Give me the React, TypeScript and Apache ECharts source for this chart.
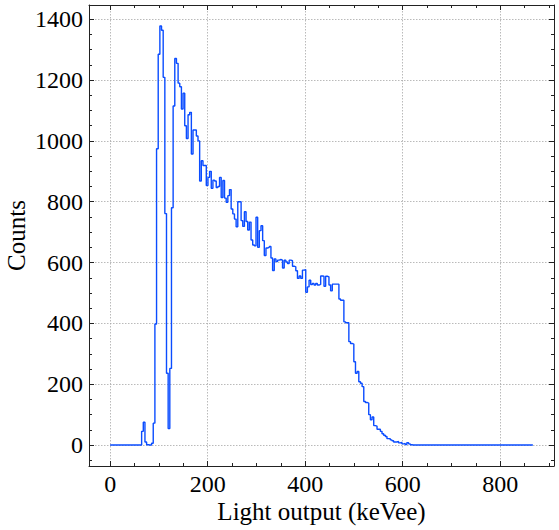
import React, { useEffect, useRef } from "react";
import * as echarts from "echarts";

// Histogram: bin width in keVee, counts per bin starting at 0 keVee
const binWidth = 3.4;
const counts = [
  0, 0, 0, 0, 0, 0, 0, 0, 0, 0, 0, 0, 0, 0, 0, 0, 0, 0,
  0, 45, 75, 10, 1, 0, 0, 6, 72, 398, 974, 1285,
  1378, 1364, 1209, 761, 236, 54, 252, 780, 1115, 1271,
  1255, 1190, 1178, 1105, 1157, 1050, 1008, 1086, 1094, 957,
  1036, 1036, 1016, 1000, 868, 935, 919, 919, 853, 880,
  900, 844, 871, 868, 847, 850, 880, 814, 870, 812,
  798, 820, 840, 776, 760, 743, 718, 800, 800, 738,
  719, 767, 735, 707, 733, 674, 658, 655, 749, 650,
  705, 721, 672, 623, 648, 650, 653, 615, 574, 612,
  603, 608, 610, 608, 582, 608, 602, 597, 608, 606,
  588, 586, 573, 548, 556, 548, 575, 577, 502, 520,
  542, 528, 531, 526, 531, 526, 528, 556, 555, 522,
  555, 553, 526, 507, 529, 529, 529, 529, 480, 476,
  476, 405, 402, 402, 340, 334, 332, 274, 236, 242,
  208, 203, 192, 143, 140, 138, 100, 83, 92, 64,
  62, 52, 52, 45, 37, 32, 28, 21, 21, 17,
  14, 10, 10, 12, 7, 9, 4, 5, 2, 8,
  4, 1, 0, 0, 0, 0, 0, 0, 0, 0,
  0, 0, 0, 0, 0, 0, 0, 0, 0, 0,
  0, 0, 0, 0, 0, 0, 0, 0, 0, 0,
  0, 0, 0, 0, 0, 0, 0, 0, 0, 0,
  0, 0, 0, 0, 0, 0, 0, 0, 0, 0,
  0, 0, 0, 0, 0, 0, 0, 0, 0, 0,
  0, 0, 0, 0, 0, 0, 0, 0, 0, 0,
  0, 0, 0, 0, 0,
];

const xMajor = [0, 200, 400, 600, 800];
const xMinor = [50, 100, 150, 250, 300, 350, 450, 500, 550, 650, 700, 750, 850, 900];
const yMajor = [0, 200, 400, 600, 800, 1000, 1200, 1400];
const yMinor = [-50, 50, 100, 150, 250, 300, 350, 450, 500, 550, 650, 700, 750, 850, 900, 950, 1050, 1100, 1150, 1250, 1300, 1350];

const xRange = [-43.35, 910.35];
const yRange = [-68.9, 1446.9];

const FONT = "'Liberation Serif', 'Times New Roman', serif";
const LINE_COLOR = "#0a4cff";

export default function App() {
  const ref = useRef<HTMLDivElement>(null);

  useEffect(() => {
    document.body.style.margin = "0";
    if (!ref.current) return;
    const chart = echarts.init(ref.current, null, { renderer: "svg" });

    const stepData: number[][] = counts.map((c, i) => [i * binWidth, c]);
    stepData.push([counts.length * binWidth, counts[counts.length - 1]]);

    const frame = { show: true, onZero: false, lineStyle: { color: "#222", width: 1 } };
    const grid = { show: true, lineStyle: { color: "#a8a8a8", width: 0.8, type: [1.5, 1.5] as any } };
    const tickStyle = { color: "#222", width: 1 };
    const fmt = (v: number) => String(Math.round(v));

    const xAx = (position: string, ticks: number[], len: number, major: boolean, label: boolean) => ({
      type: "value",
      position,
      min: xRange[0],
      max: xRange[1],
      axisLine: major ? frame : { show: false, onZero: false },
      axisTick: { show: true, inside: true, length: len, lineStyle: tickStyle, customValues: ticks },
      axisLabel: label
        ? { show: true, customValues: ticks, formatter: fmt, margin: 6, fontSize: 24, fontFamily: FONT, color: "#000" }
        : { show: false },
      splitLine: label ? { ...grid, customValues: ticks } : { show: false },
      ...(label
        ? {
            name: "Light output (keVee)",
            nameLocation: "middle",
            nameGap: 33,
            nameMoveOverlap: false,
            nameTextStyle: { fontSize: 25, fontFamily: FONT, color: "#000" },
          }
        : {}),
    });

    const yAx = (position: string, ticks: number[], len: number, major: boolean, label: boolean) => ({
      type: "value",
      position,
      min: yRange[0],
      max: yRange[1],
      axisLine: major ? frame : { show: false, onZero: false },
      axisTick: { show: true, inside: true, length: len, lineStyle: tickStyle, customValues: ticks },
      axisLabel: label
        ? { show: true, customValues: ticks, formatter: fmt, margin: 6, fontSize: 24, fontFamily: FONT, color: "#000" }
        : { show: false },
      splitLine: label ? { ...grid, customValues: ticks } : { show: false },
      ...(label
        ? {
            name: "Counts",
            nameLocation: "middle",
            nameGap: 60,
            nameMoveOverlap: false,
            nameTextStyle: { fontSize: 25, fontFamily: FONT, color: "#000" },
          }
        : {}),
    });

    chart.setOption({
      animation: false,
      backgroundColor: "#fff",
      grid: { left: 89, right: 5, top: 5, bottom: 64, containLabel: false, outerBoundsMode: "none" },
      xAxis: [
        xAx("bottom", xMajor, 5, true, true),
        xAx("bottom", xMinor, 3, false, false),
        xAx("top", xMajor, 5, true, false),
        xAx("top", xMinor, 3, false, false),
      ],
      yAxis: [
        yAx("left", yMajor, 5, true, true),
        yAx("left", yMinor, 3, false, false),
        yAx("right", yMajor, 5, true, false),
        yAx("right", yMinor, 3, false, false),
      ],
      series: [
        {
          type: "line",
          xAxisIndex: 0,
          yAxisIndex: 0,
          step: "end",
          data: stepData,
          showSymbol: false,
          symbol: "none",
          lineStyle: { color: LINE_COLOR, width: 1.4 },
          z: 5,
        },
      ],
    });

    return () => chart.dispose();
  }, []);

  return <div ref={ref} style={{ width: 559, height: 530 }} />;
}
